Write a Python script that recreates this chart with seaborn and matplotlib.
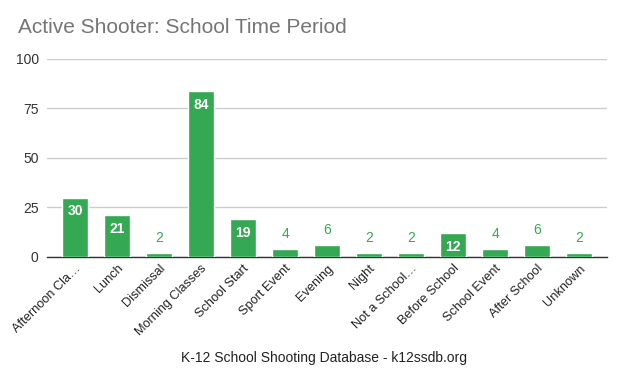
import pandas as pd
import matplotlib
matplotlib.use("Agg")
import matplotlib.pyplot as plt
import seaborn as sns

# Chart data
periods = ["Afternoon Cla\u2026", "Lunch", "Dismissal", "Morning Classes", "School Start",
           "Sport Event", "Evening", "Night", "Not a School\u2026", "Before School",
           "School Event", "After School", "Unknown"]
counts = [30, 21, 2, 84, 19, 4, 6, 2, 2, 12, 4, 6, 2]
y_ticks = [0, 25, 50, 75, 100]

df = pd.DataFrame({"period": periods, "count": counts})

sns.set_theme(style="white")
plt.rcParams["font.family"] = ["Liberation Sans", "DejaVu Sans"]

green = "#34a853"

fig = plt.figure(figsize=(6.24, 3.85), dpi=100)
ax = fig.add_axes([0.0753, 0.3325, 0.8975, 0.5143])

sns.barplot(data=df, x="period", y="count", color=green, saturation=1,
            width=0.62, ax=ax, zorder=3)

ax.set_ylim(0, 100)
ax.set_xlim(-0.667, len(periods) - 0.333)
ax.set_yticks(y_ticks)
ax.set_yticklabels([str(t) for t in y_ticks], fontsize=10, color="#333333")
ax.yaxis.grid(True, color="#cccccc", linewidth=1, zorder=0)
ax.tick_params(axis="both", length=0, pad=6)
ax.set_xticks(range(len(periods)))
ax.set_xticklabels(periods, rotation=45, ha="right", rotation_mode="anchor",
                   fontsize=9.2, color="#222222")
ax.tick_params(axis="x", pad=4)

for s in ["top", "right", "left"]:
    ax.spines[s].set_visible(False)
ax.spines["bottom"].set_color("#333333")
ax.spines["bottom"].set_linewidth(1)

# value labels
for i, v in enumerate(counts):
    if v >= 10:
        ax.annotate(str(v), (i, v), xytext=(0, -10), textcoords="offset points",
                    ha="center", va="center", color="white", fontsize=10,
                    fontweight="bold", zorder=4)
    else:
        ax.annotate(str(v), (i, v), xytext=(0, 11), textcoords="offset points",
                    ha="center", va="center", color=green, fontsize=10, zorder=4)

ax.set_ylabel("")
ax.set_xlabel("")
fig.text(0.029, 0.928, "Active Shooter: School Time Period", fontsize=15,
         color="#757575", ha="left", va="center")
fig.text(0.52, 0.07, "K-12 School Shooting Database - k12ssdb.org", fontsize=10,
         color="#222222", ha="center", va="center")

fig.savefig("out.png", dpi=100)
